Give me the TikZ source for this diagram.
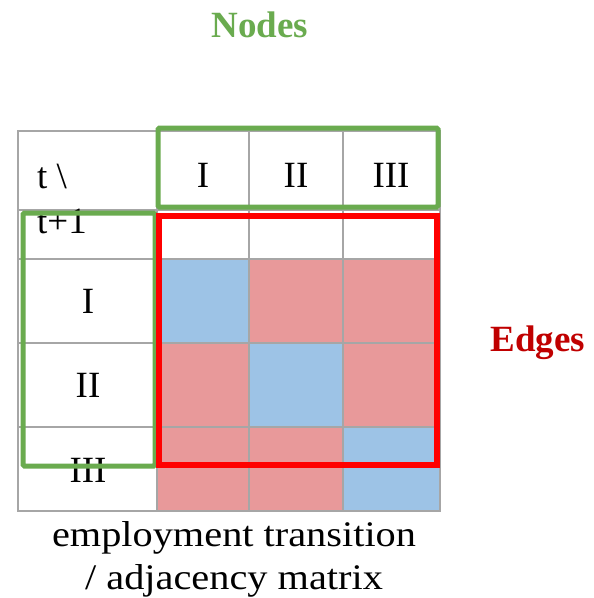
\documentclass[tikz,border=0pt]{standalone}
\usepackage{fontspec}
\setmainfont{Liberation Serif}
\newfontfamily\capfont[FakeStretch=1.12]{Liberation Serif}
\definecolor{cellblue}{HTML}{9DC3E6}
\definecolor{cellred}{HTML}{E8999A}
\definecolor{gridgray}{HTML}{A6A6A6}
\definecolor{nodegreen}{HTML}{6AAB4F}
\definecolor{edgered}{HTML}{C00000}
\definecolor{boxred}{HTML}{FF0000}
\tikzset{
  celltext/.style={font=\fontsize{37}{40}\selectfont, inner sep=0pt, anchor=center},
  gridline/.style={draw=gridgray, line width=1.5pt},
  greenbox/.style={draw=nodegreen, line width=5pt, rounded corners=1.5pt},
  redbox/.style={draw=boxred, line width=6pt},
  title/.style={font=\fontsize{37}{40}\selectfont\bfseries, inner sep=0pt},
}
\begin{document}
\begin{tikzpicture}[x=1pt,y=-1pt]
\useasboundingbox (0,0) rectangle (594,598);
% cell fills
\fill[cellblue] (157,259) rectangle (249,343);
\fill[cellred]  (249,259) rectangle (440,343);
\fill[cellred]  (157,343) rectangle (249,427);
\fill[cellblue] (249,343) rectangle (343,427);
\fill[cellred]  (343,343) rectangle (440,427);
\fill[cellred]  (157,427) rectangle (343,511);
\fill[cellblue] (343,427) rectangle (440,511);
% grid
\draw[gridline] (18,131) rectangle (440,511);
\foreach \x in {157,249,343} \draw[gridline] (\x,131) -- (\x,511);
\foreach \y in {210,259,343,427} \draw[gridline] (18,\y) -- (440,\y);
% header texts
\node[celltext, anchor=base west] (tl1) at (37,188) {t \textbackslash};
\node[celltext, anchor=base west] (tl2) at (37,233) {t+1};
\node[celltext] (c1) at (203,175) {I};
\node[celltext] (c2) at (296,175) {II};
\node[celltext] (c3) at (391,175) {III};
\node[celltext] (r1) at (88,301) {I};
\node[celltext] (r2) at (88,385) {II};
\node[celltext] (r3) at (88,470) {III};
% highlight boxes
\draw[greenbox] (158,128) rectangle (438,207);
\draw[greenbox] (23,213) rectangle (155,466);
\draw[redbox] (159,216) rectangle (437,465);
% titles
\node[title, text=nodegreen] (nodes) at (260,25) {Nodes};
\node[title, text=edgered] (edges) at (538,343) {Edges};
% caption
\node[celltext, align=center, font=\capfont\fontsize{36}{43}\selectfont] (cap) at (234,559) {employment transition\\/ adjacency matrix};
\end{tikzpicture}
\end{document}
